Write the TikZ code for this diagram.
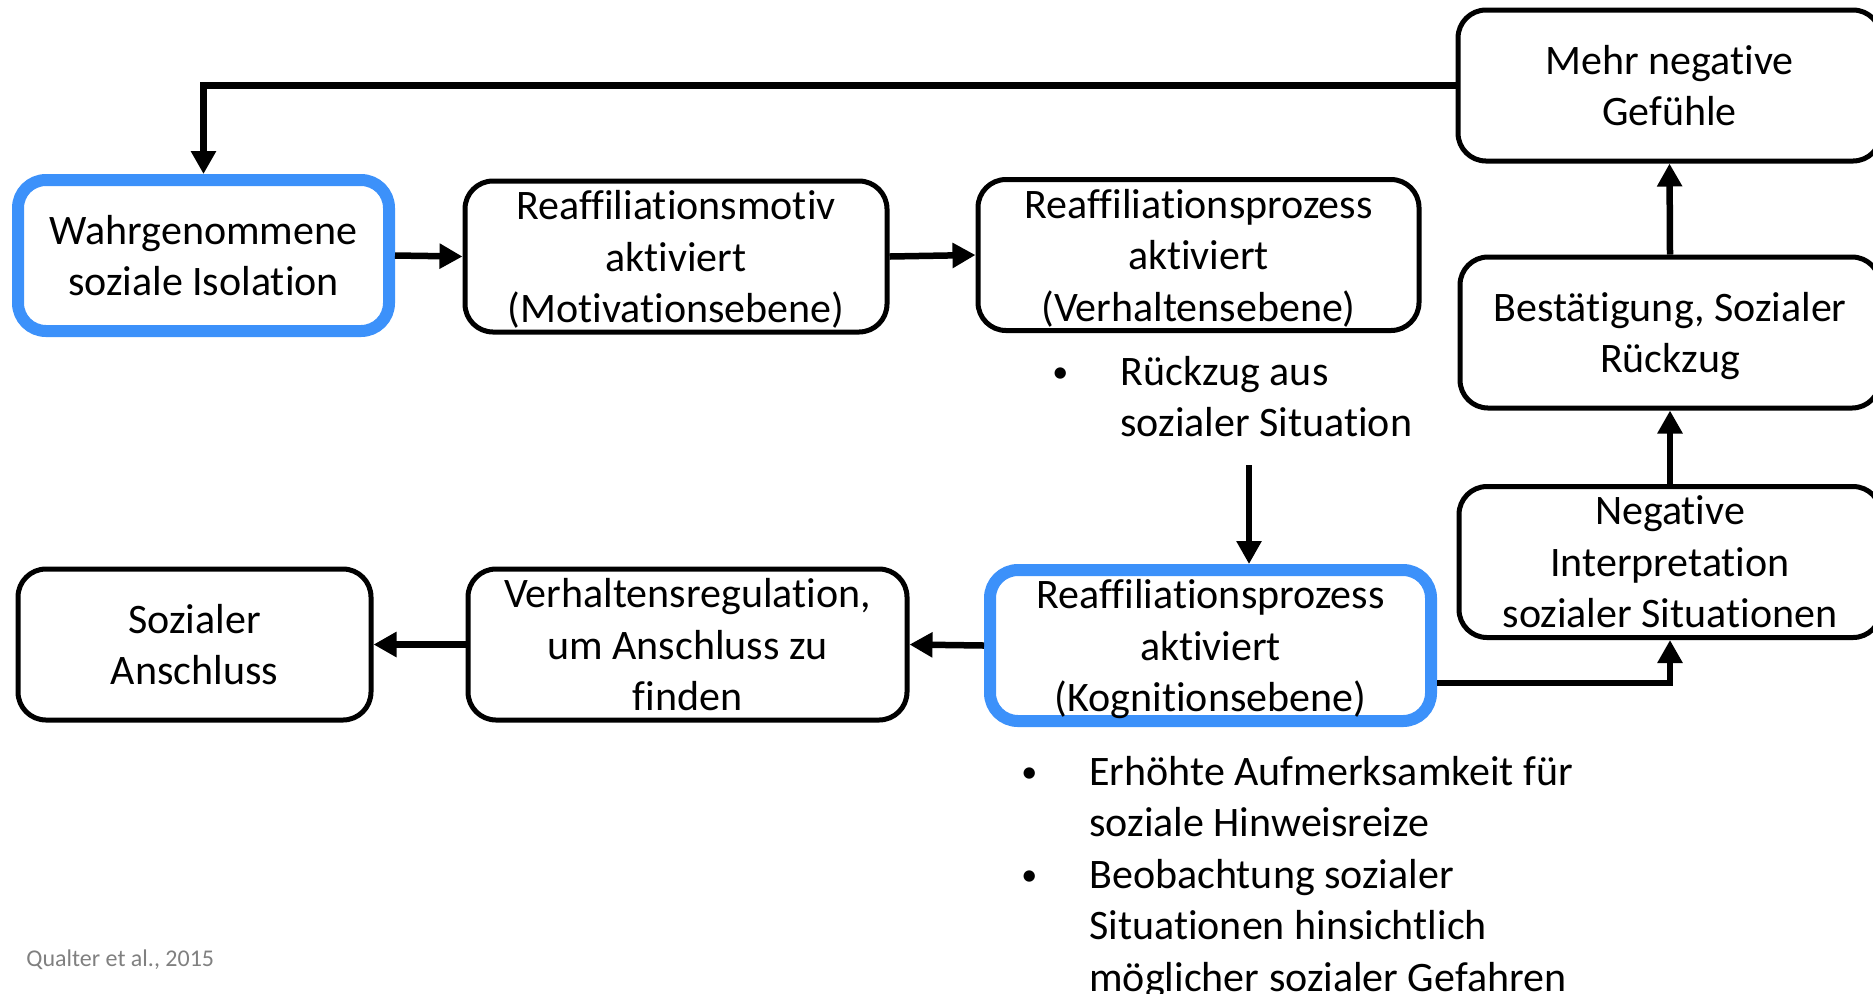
\documentclass[tikz,border=0pt]{standalone}
\usepackage{fontspec}
\setmainfont{Carlito}[Ligatures=NoCommon]
\usetikzlibrary{arrows.meta}
\definecolor{isoblue}{RGB}{60,145,250}
\newcommand\notebullet{\makebox[34pt][l]{\raisebox{1.5pt}{\fontsize{16}{16}\selectfont•}}}
\begin{document}
\begin{tikzpicture}[x=0.5pt,y=-0.5pt,
	boxstyle/.style={draw,rounded corners=14pt,line width=2.5pt,align=center,inner xsep=4pt,inner ysep=0pt,minimum height=75.5pt,text depth=0pt,font=\fontsize{21}{25.75}\selectfont},
	bluestyle/.style={boxstyle,draw=isoblue,line width=6pt},
	arrowstyle/.style={line width=3.25pt,-{Triangle[length=11.5pt,width=12pt]}},
	notestyle/.style={anchor=base west,inner sep=0pt,font=\fontsize{21}{25.75}\selectfont}]
\useasboundingbox (0,0) rectangle (1873,993);
\node[bluestyle,minimum width=185.5pt] (iso) at (203.5,255.5) {Wahrgenommene\\soziale Isolation};
\node[boxstyle,minimum width=211pt] (motiv) at (676,256.5) {Reaffiliationsmotiv\\aktiviert\\(Motivationsebene)};
\node[boxstyle,minimum width=220.5pt] (verhalten) at (1198.5,255) {Reaffiliationsprozess\\aktiviert\\(Verhaltensebene)};
\node[boxstyle,minimum width=211.5pt] (gefuehle) at (1669.5,85.5) {Mehr negative\\Gefühle};
\node[boxstyle,minimum width=210pt] (bestaet) at (1670,332.5) {Bestätigung, Sozialer\\Rückzug};
\node[boxstyle,minimum width=211pt] (interp) at (1670,562) {Negative\\Interpretation\\sozialer Situationen};
\node[bluestyle,minimum width=220.5pt] (kogn) at (1210.5,645.5) {Reaffiliationsprozess\\aktiviert\\(Kognitionsebene)};
\node[boxstyle,minimum width=219.5pt] (regul) at (687.5,644.5) {Verhaltensregulation,\\um Anschluss zu\\finden};
\node[boxstyle,minimum width=176.5pt] (anschluss) at (194.5,644.5) {Sozialer\\Anschluss};
\node[notestyle] (rueckzug) at (1052,385) {\begin{tabular}[t]{@{}l@{}}\notebullet Rückzug aus\\\hspace{34pt}sozialer Situation\end{tabular}};
\node[notestyle] (hinweise) at (1021,785) {\begin{tabular}[t]{@{}l@{}}\notebullet Erhöhte Aufmerksamkeit für\\\hspace{34pt}soziale Hinweisreize\\\notebullet Beobachtung sozialer\\\hspace{34pt}Situationen hinsichtlich\\\hspace{34pt}möglicher sozialer Gefahren\end{tabular}};
\node[anchor=base west,inner sep=0pt,text=gray,font=\fontsize{12}{14}\selectfont] (quelle) at (26,966) {Qualter et al., 2015};
\coordinate (rzpfeil) at (1249,465);
\draw[arrowstyle] (gefuehle.west) -| (iso.north);
\draw[arrowstyle] (iso.east) -- (motiv.west);
\draw[arrowstyle] (motiv.east) -- (verhalten.west);
\draw[arrowstyle] (rzpfeil) -- (rzpfeil |- kogn.north);
\draw[arrowstyle] (kogn.west) -- (regul.east);
\draw[arrowstyle] (regul.west) -- (anschluss.east);
\draw[arrowstyle] ([yshift=-18.75pt]kogn.east) -| (interp.south);
\draw[arrowstyle] (interp.north) -- (bestaet.south);
\draw[arrowstyle] (bestaet.north) -- (gefuehle.south);
\end{tikzpicture}
\end{document}
